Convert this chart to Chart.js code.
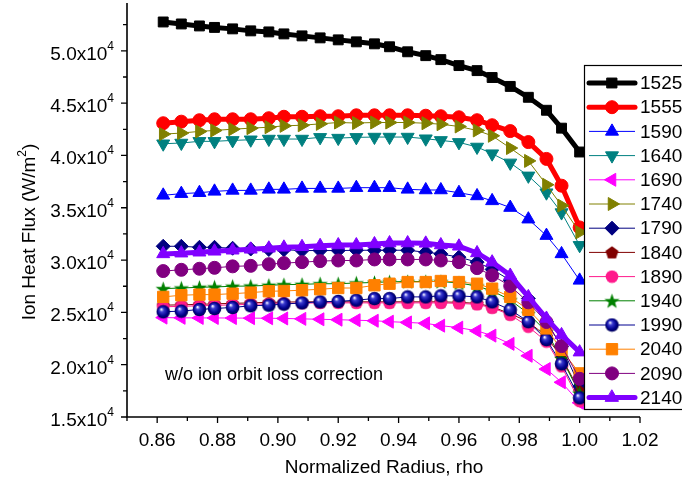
<!DOCTYPE html>
<html>
<head>
<meta charset="utf-8">
<script src="https://cdn.jsdelivr.net/npm/chart.js@4/dist/chart.umd.min.js"></script>
<style>
html,body{margin:0;padding:0;background:#fff;}
#wrap{width:682px;height:493px;position:relative;}
</style>
</head>
<body>
<div id="wrap"><canvas id="c" width="682" height="493" style="width:682px;height:493px"></canvas></div>
<script>
// ---------- DATA ----------
const rho = [0.862,0.868,0.874,0.879,0.885,0.891,0.897,0.902,0.908,0.914,0.920,0.926,0.932,0.937,0.943,0.949,0.954,0.960,0.966,0.971,0.977,0.983,0.989,0.994,1.000];
const seriesNames = ['1525','1555','1590','1640','1690','1740','1790','1840','1890','1940','1990','2040','2090','2140'];
const s1525 = [52760,52570,52380,52240,52100,51910,51810,51620,51430,51240,51050,50860,50670,50390,49910,49540,49160,48590,48110,47450,46600,45560,44320,42610,40330];
const s1555 = [43080,43230,43370,43460,43460,43460,43560,43700,43700,43750,43750,43840,43840,43840,43840,43800,43750,43650,43370,42890,42330,41280,39670,37110,33120];
const s1590 = [36190,36350,36440,36570,36660,36660,36760,36760,36850,36850,36850,36920,36920,36920,36760,36700,36700,36440,36130,35660,35020,33910,32340,30590,28060];
const s1640 = [41120,41190,41350,41350,41440,41500,41570,41570,41570,41730,41660,41730,41760,41760,41760,41600,41440,41250,40810,40170,39290,38050,36440,34540,31410];
const s1690 = [24500,24480,24470,24470,24460,24450,24440,24420,24380,24340,24300,24250,24200,24110,24040,23950,23730,23540,23230,22780,21990,20850,19580,18320,16360];
const s1740 = [42040,42140,42300,42390,42510,42610,42700,42830,42890,43020,43150,43100,43150,43150,43150,43080,42990,42770,42390,41880,40710,39480,37200,35210,32650];
const s1790 = [31320,31320,31220,31220,31130,31060,31010,30990,30910,30910,30910,30940,30940,30940,30940,30750,30590,30280,29800,29110,28070,26320,24110,21740,17940];
const s1840 = [25690,25720,25770,25820,25860,25910,25960,25980,26010,26010,26010,26010,26010,26010,26010,26010,26010,25960,25860,25530,24870,24110,22690,20700,17470];
const s1890 = [25530,25580,25630,25670,25720,25770,25820,25840,25880,25910,25910,25910,25910,25910,25910,25910,25910,25860,25770,25440,24770,23630,22210,19840,16520];
const s1940 = [27270,27330,27400,27430,27500,27520,27590,27650,27680,27740,27740,27810,27860,27920,27950,27950,27950,27810,27520,27050,26190,24870,23160,20600,17280];
const s1990 = [25060,25120,25280,25370,25470,25630,25690,25790,25910,26010,26050,26170,26320,26320,26480,26480,26580,26580,26480,26010,25250,24110,22400,20080,16830];
const s2040 = [26480,26640,26700,26700,26790,26890,27020,27050,27120,27210,27330,27330,27590,27740,27900,27900,28000,27900,27740,27270,26480,25250,23470,21420,19170];
const s2090 = [28950,29070,29170,29260,29400,29450,29610,29710,29800,29900,29960,29960,30060,30060,30060,30060,29960,29800,29230,28540,27520,25960,24080,21780,18650];
const s2140 = [30590,30660,30750,30840,30940,31030,31130,31220,31270,31370,31440,31440,31540,31630,31630,31600,31440,31320,30680,29800,28530,26480,24420,22850,21200];
const xMajorTicks = [0.86,0.88,0.90,0.92,0.94,0.96,0.98,1.00,1.02];
const xMinorTicks = [0.85,0.87,0.89,0.91,0.93,0.95,0.97,0.99,1.01];
const xTickLabels = ['0.86','0.88','0.90','0.92','0.94','0.96','0.98','1.00','1.02'];
const yMajorTicks = [15000,20000,25000,30000,35000,40000,45000,50000];
const yMinorTicks = [17500,22500,27500,32500,37500,42500,47500,52500];
const yTickMantissa = ['1.5','2.0','2.5','3.0','3.5','4.0','4.5','5.0'];
const yTickExp = '4';

// ---------- custom marker images ----------
function mk(size, fn){ const c=document.createElement('canvas'); c.width=size; c.height=size; fn(c.getContext('2d'), size/2); return c; }
const pentagon = mk(15,(g,c)=>{ g.fillStyle='#800000'; g.beginPath(); for(let i=0;i<5;i++){const a=-Math.PI/2+i*2*Math.PI/5; g.lineTo(c+6.8*Math.cos(a), c+0.5+6.8*Math.sin(a));} g.closePath(); g.fill(); });
const star = mk(17,(g,c)=>{ g.fillStyle='#008000'; g.beginPath(); for(let i=0;i<10;i++){const a=-Math.PI/2+i*Math.PI/5; const r=i%2?3.3:8; g.lineTo(c+r*Math.cos(a), c+0.8+r*Math.sin(a));} g.closePath(); g.fill(); });
const ball = mk(15,(g,c)=>{ const gr=g.createRadialGradient(c-2,c-2.5,0.5,c,c,7); gr.addColorStop(0,'#e8e8ff'); gr.addColorStop(0.25,'#3a3ad0'); gr.addColorStop(0.7,'#00008b'); gr.addColorStop(1,'#000050'); g.fillStyle=gr; g.beginPath(); g.arc(c,c,6.8,0,Math.PI*2); g.fill(); });
const pinkDot = mk(14,(g,c)=>{ g.fillStyle='#ff1a8c'; g.beginPath(); g.arc(c,c,6.3,0,Math.PI*2); g.fill(); });

const styles = [
  {c:'#000000', w:5, ps:'rect', r:7, rot:0},
  {c:'#ff0000', w:5, ps:'circle', r:6.5, rot:0},
  {c:'#0000ff', w:1, ps:'triangle', r:7.5, rot:0},
  {c:'#008080', w:1, ps:'triangle', r:7.5, rot:180},
  {c:'#ff00ff', w:1, ps:'triangle', r:7.5, rot:-90},
  {c:'#808000', w:1, ps:'triangle', r:7.5, rot:90},
  {c:'#000080', w:1, ps:'rectRot', r:7, rot:0},
  {c:'#800000', w:1, ps:pentagon, r:7, rot:0},
  {c:'#ff1a8c', w:1, ps:pinkDot, r:6.5, rot:0},
  {c:'#008000', w:1, ps:star, r:7, rot:0},
  {c:'#000090', w:1, ps:ball, r:7, rot:0},
  {c:'#ff8000', w:1, ps:'rect', r:8, rot:0},
  {c:'#800080', w:1, ps:'circle', r:6.5, rot:0},
  {c:'#8000ff', w:5, ps:'triangle', r:7.5, rot:0}
];
const seriesValues = [s1525,s1555,s1590,s1640,s1690,s1740,s1790,s1840,s1890,s1940,s1990,s2040,s2090,s2140];

const datasets = seriesValues.map((vals,i)=>{
  const s = styles[i];
  return {
    label: seriesNames[i],
    data: vals.map((v,j)=>({x:rho[j], y:v})),
    borderColor: s.c, backgroundColor: s.c,
    borderWidth: s.w,
    pointStyle: s.ps, pointRadius: s.r, pointRotation: s.rot,
    pointBorderWidth: 1, pointBorderColor: s.c, pointBackgroundColor: s.c,
    tension: 0, order: seriesValues.length - i, clip: false
  };
});

const FONT = '"Liberation Sans", Arial, sans-serif';

const deco = {
  id:'deco',
  afterDatasetsDraw(chart){
    const {ctx, chartArea:a, scales:{x,y}} = chart;
    ctx.save();
    // axes
    ctx.strokeStyle='#000'; ctx.lineWidth=1.6; ctx.lineCap='butt';
    ctx.beginPath(); ctx.moveTo(a.left, 3); ctx.lineTo(a.left, a.bottom); ctx.lineTo(a.right, a.bottom); ctx.stroke();
    ctx.lineWidth=1.3;
    ctx.beginPath();
    xMajorTicks.forEach(v=>{const px=x.getPixelForValue(v); ctx.moveTo(px,a.bottom); ctx.lineTo(px,a.bottom+6);});
    xMinorTicks.forEach(v=>{const px=x.getPixelForValue(v); ctx.moveTo(px,a.bottom); ctx.lineTo(px,a.bottom+4);});
    yMajorTicks.forEach(v=>{const py=y.getPixelForValue(v); ctx.moveTo(a.left,py); ctx.lineTo(a.left-6,py);});
    yMinorTicks.forEach(v=>{const py=y.getPixelForValue(v); ctx.moveTo(a.left,py); ctx.lineTo(a.left-4,py);});
    ctx.stroke();
    // x tick labels
    ctx.fillStyle='#000';
    ctx.font='19px '+FONT; ctx.textAlign='center'; ctx.textBaseline='middle';
    xMajorTicks.forEach((v,i)=>{ ctx.fillText(xTickLabels[i], x.getPixelForValue(v), a.bottom+24); });
    // y tick labels with superscript
    yMajorTicks.forEach((v,i)=>{
      const py=y.getPixelForValue(v);
      ctx.font='12px '+FONT; const ew=ctx.measureText(yTickExp).width;
      ctx.textAlign='left'; ctx.textBaseline='alphabetic';
      ctx.fillText(yTickExp, 114-ew, py-1);
      ctx.font='19px '+FONT; ctx.textAlign='right';
      ctx.fillText(yTickMantissa[i]+'x10', 114-ew, py+9);
    });
    // axis titles
    ctx.font='19px '+FONT; ctx.textAlign='center'; ctx.textBaseline='middle';
    ctx.fillText('Normalized Radius, rho', 384, 468);
    ctx.save();
    ctx.translate(28, 232); ctx.rotate(-Math.PI/2);
    const p1='Ion Heat Flux (W/m', p3=')';
    ctx.font='19px '+FONT; const w1=ctx.measureText(p1).width, w3=ctx.measureText(p3).width;
    ctx.font='12px '+FONT; const w2=ctx.measureText('2').width;
    const tot=w1+w2+w3; let sx=-tot/2;
    ctx.textAlign='left'; ctx.textBaseline='alphabetic';
    ctx.font='19px '+FONT; ctx.fillText(p1, sx, 7); sx+=w1;
    ctx.font='12px '+FONT; ctx.fillText('2', sx, -2); sx+=w2;
    ctx.font='19px '+FONT; ctx.fillText(p3, sx, 7);
    ctx.restore();
    // annotation
    ctx.font='18px '+FONT; ctx.textAlign='left'; ctx.textBaseline='middle';
    ctx.fillText('w/o ion orbit loss correction', 165, 375);
    // legend
    const lx=584.5, ly=65.5, lh=344;
    ctx.fillStyle='#fff'; ctx.fillRect(lx, ly, 120, lh);
    ctx.strokeStyle='#000'; ctx.lineWidth=1.2; ctx.strokeRect(lx, ly, 120, lh);
    chart.data.datasets.forEach((ds,i)=>{
      const ry = 83 + i*24.2;
      ctx.strokeStyle=ds.borderColor; ctx.lineWidth=ds.borderWidth;
      ctx.lineCap = ds.borderWidth>2 ? 'round':'butt';
      ctx.beginPath(); ctx.moveTo(589, ry); ctx.lineTo(635, ry); ctx.stroke();
      ctx.fillStyle=ds.pointBackgroundColor; ctx.strokeStyle=ds.pointBorderColor; ctx.lineWidth=1;
      Chart.helpers.drawPoint(ctx, {pointStyle:ds.pointStyle, rotation:ds.pointRotation, radius:ds.pointRadius, borderWidth:1}, 612, ry);
      ctx.fillStyle='#000'; ctx.font='19px '+FONT; ctx.textAlign='left'; ctx.textBaseline='middle';
      ctx.fillText(ds.label, 640, ry+1);
    });
    ctx.restore();
  }
};

new Chart(document.getElementById('c'), {
  type:'line',
  data:{datasets},
  options:{
    responsive:false, animation:false, devicePixelRatio:1,
    layout:{padding:{top:3, right:42, left:0, bottom:0}},
    plugins:{legend:{display:false}, tooltip:{enabled:false}},
    scales:{
      x:{type:'linear', min:0.85, max:1.02,
         grid:{display:false}, border:{display:false}, ticks:{display:false},
         afterFit(s){ s.height = 76; }},
      y:{type:'linear', min:15000, max:54000,
         grid:{display:false}, border:{display:false}, ticks:{display:false},
         afterFit(s){ s.width = 127; }}
    }
  },
  plugins:[deco]
});
</script>
</body>
</html>
